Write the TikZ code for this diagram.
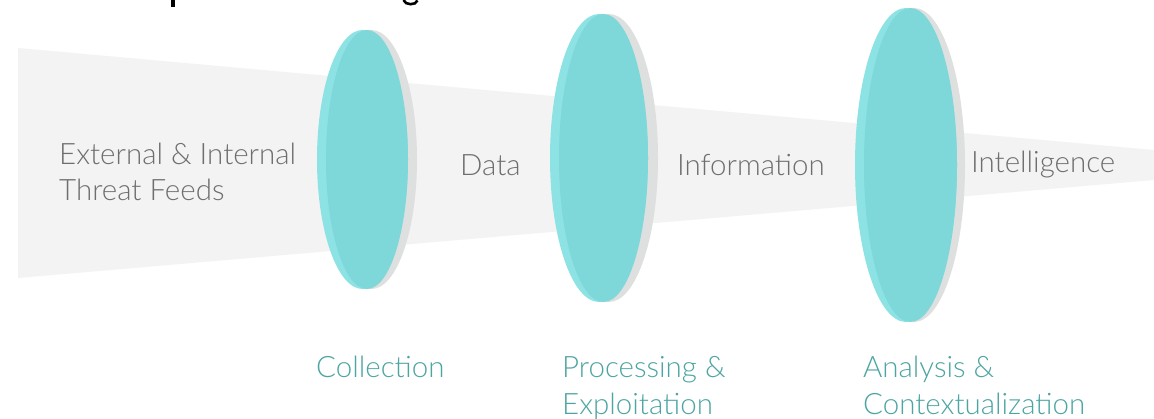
\documentclass[tikz,border=0pt]{standalone}
\usepackage{fontspec}
\setmainfont{Lato Light}
\definecolor{funnelgray}{HTML}{F3F3F3}
\definecolor{lensshadow}{HTML}{DEDFDF}
\definecolor{lenslight}{HTML}{8DE2E4}
\definecolor{lensmain}{HTML}{7ED7D9}
\definecolor{flowtext}{HTML}{6E6E6E}
\definecolor{stagetext}{HTML}{4CA5A2}
\tikzset{
  flowlabel/.style={anchor=base west, inner sep=0pt, text=flowtext, font=\fontsize{29.5}{36}\selectfont},
  stagelabel/.style={anchor=base west, inner sep=0pt, text=stagetext, font=\fontsize{29.5}{37}\selectfont},
}
% one lens: grey rim, pale left crescent, teal face
\newcommand{\drawlens}[5]{% cx, cy, rx, ry, rim shift
  \fill[lensshadow] (#1+#5,#2) ellipse [x radius=#3, y radius=#4];
  \fill[lenslight] (#1,#2) ellipse [x radius=#3, y radius=#4];
  \fill[lensmain] (#1+4.5,#2) ellipse [x radius=#3-4.5, y radius=#4];
}
\begin{document}
\begin{tikzpicture}[x=1pt,y=-1pt]
\useasboundingbox (0,0) rectangle (1154,419);
\fill[white] (0,0) rectangle (1154,419);

% descenders of the heading above
\fill[black] (170.5,0) rectangle (174.5,7);
\draw[black, line width=2.6pt] (403.5,0) .. controls (405,5.5) and (416,5.5) .. (417.5,0.5);

% the narrowing flow
\fill[funnelgray] (18,48) -- (1154,150) -- (1154,180) -- (18,278) -- cycle;

% lenses
\drawlens{362.5}{159.5}{45.5}{129.5}{9}
\drawlens{599}{158}{49}{144}{10}
\drawlens{906}{165}{51}{157}{8}

% what flows through
\node[flowlabel] (feedsA) at (59,165) {External \& Internal};
\node[flowlabel] (feedsB) at (59,201) {Threat Feeds};
\node[flowlabel] (data) at (460,176) {Data};
\node[flowlabel] (info) at (677,176) {Information};
\node[flowlabel] (intel) at (971,173) {Intelligence};

% stage names
\node[stagelabel] (collect) at (316,378) {Collection};
\node[stagelabel] (procA) at (562,378) {Processing \&};
\node[stagelabel] (procB) at (562,415) {Exploitation};
\node[stagelabel] (anaA) at (863,378) {Analysis \&};
\node[stagelabel] (anaB) at (863,415) {Contextualization};
\end{tikzpicture}
\end{document}
